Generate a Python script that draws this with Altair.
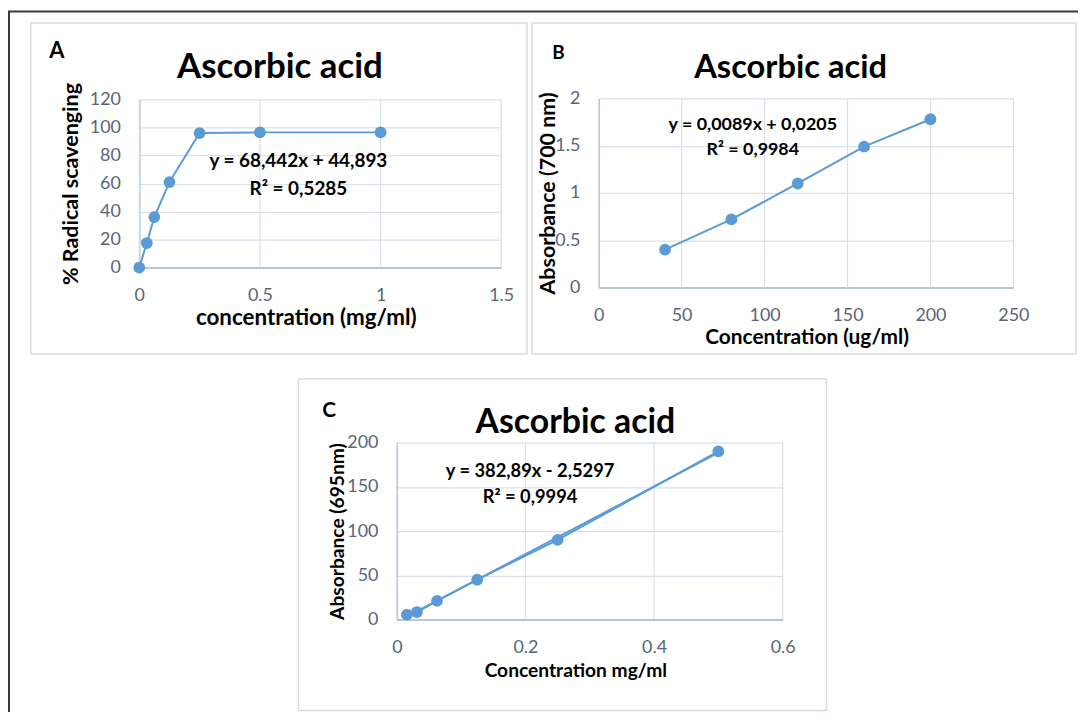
import altair as alt
import pandas as pd

# ---------------- data ----------------
a_conc = [0, 0.03125, 0.0625, 0.125, 0.25, 0.5, 1]
a_scav = [0, 17.5, 36, 61, 96, 96.5, 96.5]

b_conc = [40, 80, 120, 160, 200]
b_abs = [0.40, 0.72, 1.10, 1.49, 1.78]

c_conc = [0.015625, 0.03125, 0.0625, 0.125, 0.25, 0.5]
c_abs = [5.5, 8.5, 21, 45, 90, 190]

a_xticks = [0, 0.5, 1, 1.5]
a_yticks = [0, 20, 40, 60, 80, 100, 120]
b_xticks = [0, 50, 100, 150, 200, 250]
b_yticks = [0, 0.5, 1, 1.5, 2]
c_xticks = [0, 0.2, 0.4, 0.6]
c_yticks = [0, 50, 100, 150, 200]

title_text = "Ascorbic acid"
a_eq = ["y = 68,442x + 44,893", "R² = 0,5285"]
b_eq = ["y = 0,0089x + 0,0205", "R² = 0,9984"]
c_eq = ["y = 382,89x - 2,5297", "R² = 0,9994"]

# ---------------- style ----------------
FONT = "Lato"
BLUE = "#5B9BD5"
LABEL = "#5a6577"
GRID = "#d9e0ea"
DOMAIN = "#aab8cc"
BOX = "#d6dde7"
FRAME = "#3a3a3a"
W, H = 1076, 706
one = alt.Data(values=[{}])


def axis(title, values, offset, tx, ty, tsize, orient):
    kw = dict(
        title=title, values=values, format="~r", orient=orient, offset=offset,
        grid=(orient == "left"), gridColor=GRID, gridWidth=1.2, domainColor=DOMAIN,
        domainWidth=1.5, ticks=False, tickSize=0, labelFont=FONT,
        labelFontSize=18, labelColor=LABEL, labelPadding=19, titleFont=FONT,
        titleFontSize=tsize, titleFontWeight="bold", titleColor="black",
        titleX=tx, titleY=ty, titleBaseline="alphabetic", titleAlign="center",
        labelFlush=False, labelOverlap=False,
    )
    if orient == "left":
        kw["titleAngle"] = 270
    return alt.Axis(**kw)


def txt(s, x, y, size):
    return alt.Chart(one).mark_text(
        text=s, font=FONT, fontSize=size, fontWeight="bold", color="black",
        align="center", baseline="alphabetic",
    ).encode(x=alt.value(x), y=alt.value(y))


def box(x1, x2, y1, y2):
    return alt.Chart(one).mark_rect(
        fillOpacity=0, stroke=BOX, strokeWidth=1.5
    ).encode(x=alt.value(x1), x2=alt.value(x2), y=alt.value(y1), y2=alt.value(y2))


def panel(xs, ys, xticks, xd, yd, xr, yr, xax, yax, reg=False):
    xenc = alt.X("x:Q", scale=alt.Scale(domain=xd, range=xr, nice=False, zero=False), axis=xax)
    yenc = alt.Y("y:Q", scale=alt.Scale(domain=yd, range=yr, nice=False, zero=False), axis=yax)
    base = alt.Chart(pd.DataFrame({"x": xs, "y": ys})).encode(x=xenc, y=yenc)
    gdf = pd.DataFrame({"x": xticks, "y": [yd[1]] * len(xticks), "y0": [yd[0]] * len(xticks)})
    grid = alt.Chart(gdf).mark_rule(color=GRID, strokeWidth=1.2).encode(
        x=xenc, y=yenc, y2="y0:Q"
    )
    layers = [grid, base.mark_line(color=BLUE, strokeWidth=2)]
    if reg:
        layers.append(base.transform_regression("x", "y").mark_line(color=BLUE, strokeWidth=2))
    layers.append(base.mark_circle(size=140, color=BLUE, opacity=1))
    return alt.layer(*layers)


# ---------- frame and panel boxes ----------
frame_top = alt.Chart(one).mark_rule(color=FRAME, strokeWidth=2).encode(
    x=alt.value(0), x2=alt.value(W), y=alt.value(1.5)
)
frame_left = alt.Chart(one).mark_rule(color=FRAME, strokeWidth=2).encode(
    x=alt.value(1), y=alt.value(1), y2=alt.value(H)
)
boxes = [box(23, 522, 13, 346), box(527, 1074, 13, 346), box(292, 823, 371, 704.5)]

# ---------- Panel A ----------
A = panel(
    a_conc, a_scav, a_xticks, [0, 1.5], [0, 120], [132, 496], [259, 90],
    axis("concentration (mg/ml)", a_xticks, -(H - 259), 299.5, 57, 22.5, "bottom"),
    axis("% Radical scavenging", a_yticks, -132, -62, 174.5, 21.6, "left"),
)
A_text = [txt("A", 49, 48, 22), txt(title_text, 273.5, 68, 35),
          txt(a_eq[0], 292, 158, 19), txt(a_eq[1], 292, 186, 19)]

# ---------- Panel B ----------
B = panel(
    b_conc, b_abs, b_xticks, [0, 250], [0, 2], [594, 1011], [279, 89],
    axis("Concentration (ug/ml)", b_xticks, -(H - 279), 803, 56, 21, "bottom"),
    axis("Absorbance (700 nm)", b_yticks, -594, -44, 184, 21.5, "left"),
)
B_text = [txt("B", 553.5, 49, 19), txt(title_text, 787, 68, 32.8),
          txt(b_eq[0], 749, 121, 18), txt(b_eq[1], 749, 146, 18)]

# ---------- Panel C ----------
C = panel(
    c_conc, c_abs, c_xticks, [0, 0.6], [0, 200], [391, 779], [613, 435],
    axis("Concentration mg/ml", c_xticks, -(H - 613), 570.5, 57, 19.3, "bottom"),
    axis("Absorbance (695nm)", c_yticks, -391, -54, 524, 19.3, "left"),
    reg=True,
)
C_text = [txt("C", 323, 409, 21), txt(title_text, 570.5, 425, 34),
          txt(c_eq[0], 525, 470, 18.4), txt(c_eq[1], 525, 496, 18.4)]

chart = alt.layer(
    *boxes, frame_top, frame_left, A, B, C, *A_text, *B_text, *C_text
).resolve_scale(x="independent", y="independent").properties(
    width=W, height=H, autosize="none", padding=0, background="white"
).configure_view(strokeWidth=0)

chart.save("out.html", embed_options={"renderer": "svg", "actions": False})
